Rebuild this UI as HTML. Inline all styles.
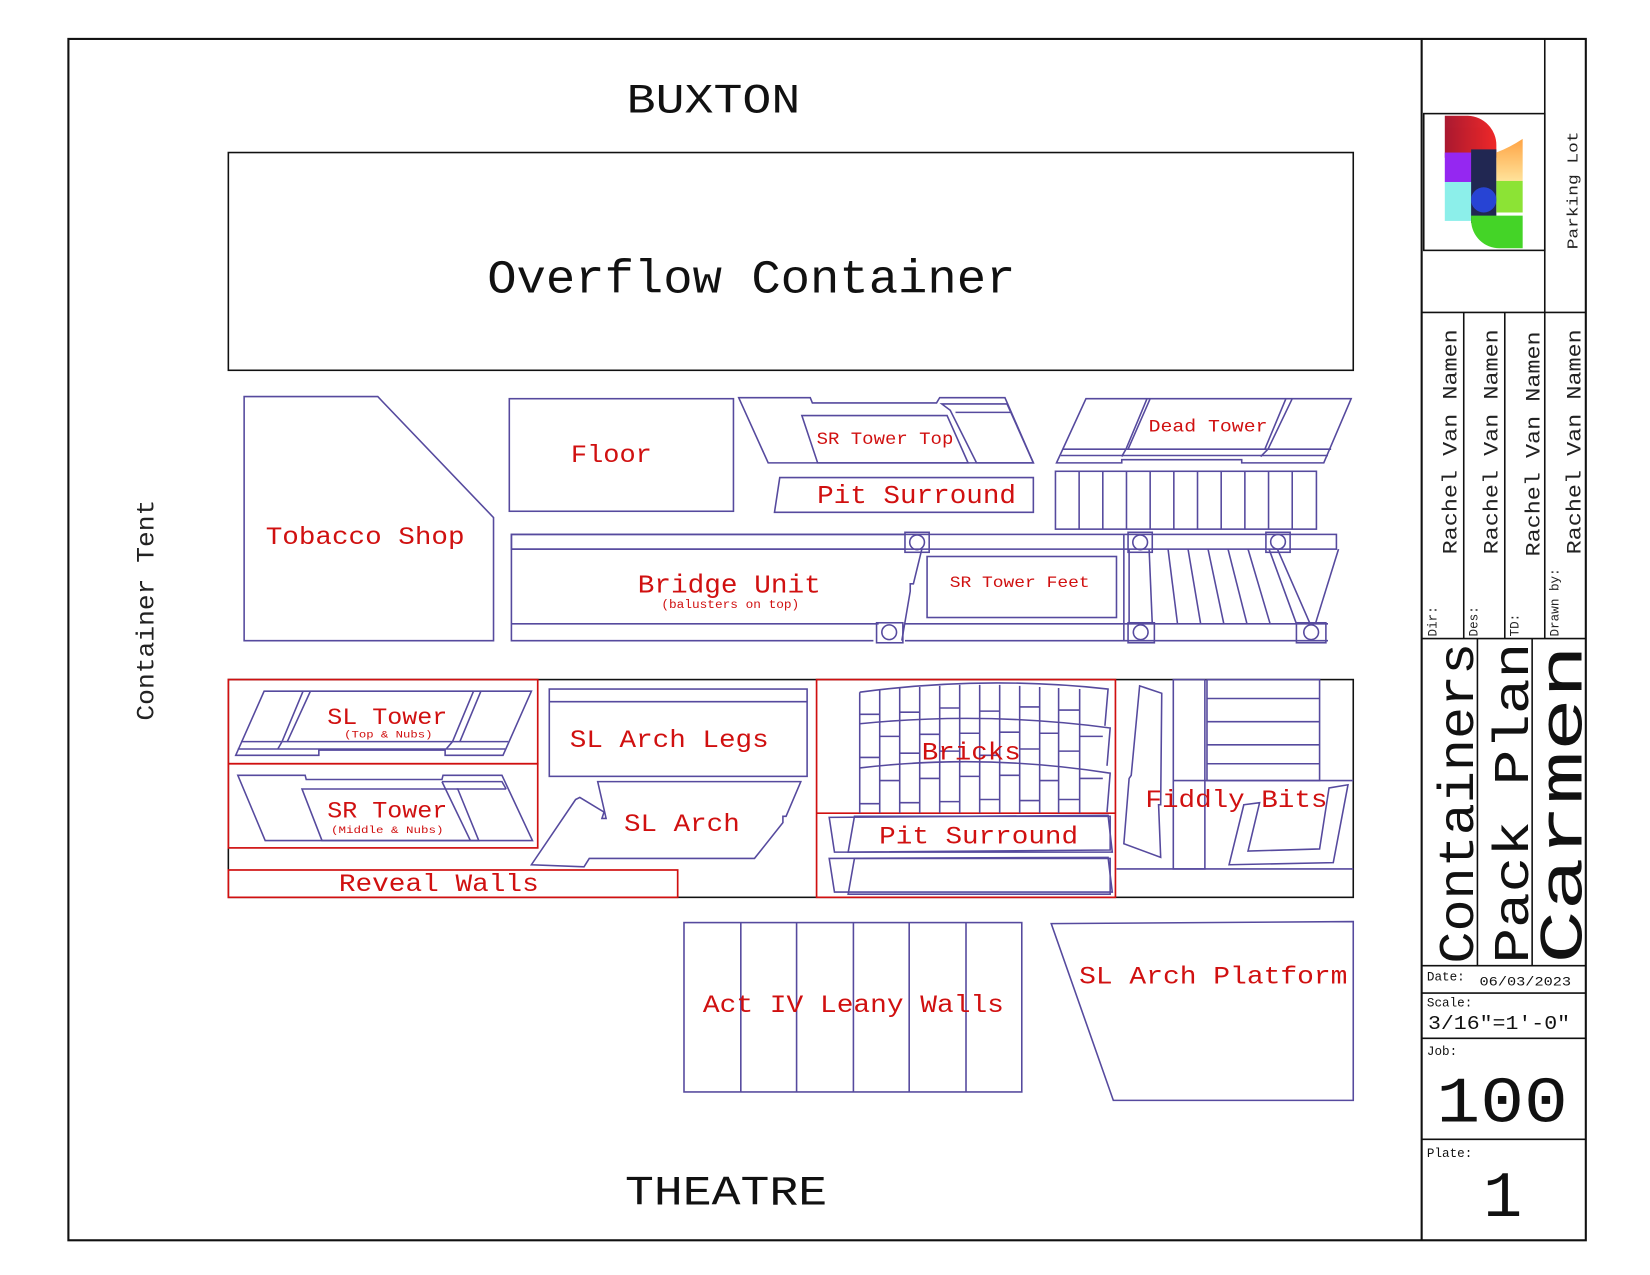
<!DOCTYPE html>
<html><head><meta charset="utf-8"><style>
html,body{margin:0;padding:0;background:#fff}
svg{display:block}
text{font-family:"Liberation Mono",monospace}
.p{fill:none;stroke:#564a9e;stroke-width:1.5}
.r{fill:none;stroke:#d01010;stroke-width:1.6}
.k{fill:none;stroke:#111;stroke-width:1.5}
.t{fill:#d01010}
</style></head><body>
<svg width="1650" height="1275" viewBox="0 0 1568 1212" preserveAspectRatio="none" xmlns="http://www.w3.org/2000/svg">
<defs>
<linearGradient id="g1" x1="0" x2="1"><stop offset="0" stop-color="#a0001a"/><stop offset="1" stop-color="#ee1111"/></linearGradient>
<linearGradient id="g2" x1="0" x2="0" y1="0" y2="1"><stop offset="0" stop-color="#ff9a30"/><stop offset="1" stop-color="#ffe090"/></linearGradient>
</defs>
<rect x="65" y="37" width="1442" height="1142" fill="none" stroke="#111" stroke-width="2"/>
<line x1="1351" y1="37" x2="1351" y2="1179" stroke="#111" stroke-width="2"/>
<text x="678" y="107" font-size="40" text-anchor="middle" fill="#111" textLength="165" lengthAdjust="spacingAndGlyphs">BUXTON</text>
<text x="690" y="1145" font-size="40" text-anchor="middle" fill="#111" textLength="192" lengthAdjust="spacingAndGlyphs">THEATRE</text>
<text transform="translate(146,580) rotate(-90)" font-size="24" text-anchor="middle" fill="#222" textLength="210" lengthAdjust="spacingAndGlyphs">Container Tent</text>
<rect x="217" y="145" width="1069" height="207" class="k"/>
<text x="714" y="278" font-size="45" text-anchor="middle" fill="#111" textLength="502" lengthAdjust="spacingAndGlyphs">Overflow Container</text>

<polygon class="p" points="232,377 359,377 469,492 469,609 232,609"/>
<text class="t" x="347" y="517" font-size="24" text-anchor="middle" textLength="189" lengthAdjust="spacingAndGlyphs">Tobacco Shop</text>
<rect class="p" x="484" y="379" width="213" height="107"/>
<text class="t" x="581" y="439" font-size="24" text-anchor="middle" textLength="77" lengthAdjust="spacingAndGlyphs">Floor</text>
<polygon class="p" points="702,378 770,378 772,383 890,383 893,378 955,378 982,440 730,440"/>
<polygon class="p" points="762,395 900,395 920,440 777,440"/>
<polygon class="p" points="895,384 957,384 982,440 928,440 903,390"/>
<line class="p" x1="908" y1="392" x2="960" y2="392"/>
<text class="t" x="841" y="422" font-size="17" text-anchor="middle" textLength="130" lengthAdjust="spacingAndGlyphs">SR Tower Top</text>
<polygon class="p" points="741,454 982,454 982,487 736,487"/>
<text class="t" x="871" y="478" font-size="25" text-anchor="middle" textLength="189" lengthAdjust="spacingAndGlyphs">Pit Surround</text>
<polygon class="p" points="1032,379 1284,379 1258,440 1180,440 1180,437 1066,437 1066,440 1004,440"/>
<polyline class="p" points="1090,379 1070,427 1066,434"/>
<polyline class="p" points="1228,379 1205,427 1198,434"/>
<polyline class="p" points="1093,379 1072,427"/>
<polyline class="p" points="1222,379 1202,427"/>
<line class="p" x1="1010" y1="427" x2="1265" y2="427"/>
<line class="p" x1="1008" y1="433" x2="1262" y2="433"/>
<text class="t" x="1148" y="410" font-size="17" text-anchor="middle" textLength="113" lengthAdjust="spacingAndGlyphs">Dead Tower</text>
<rect class="p" x="1003" y="448" width="248" height="55"/>
<g class="p">
<line x1="1025.5" y1="448" x2="1025.5" y2="503"/><line x1="1048" y1="448" x2="1048" y2="503"/><line x1="1070.5" y1="448" x2="1070.5" y2="503"/><line x1="1093" y1="448" x2="1093" y2="503"/><line x1="1115.5" y1="448" x2="1115.5" y2="503"/><line x1="1138" y1="448" x2="1138" y2="503"/><line x1="1160.5" y1="448" x2="1160.5" y2="503"/><line x1="1183" y1="448" x2="1183" y2="503"/><line x1="1205.5" y1="448" x2="1205.5" y2="503"/><line x1="1228" y1="448" x2="1228" y2="503"/>
</g>
<polyline class="p" points="860,508 486,508 486,609 830,609"/>
<line class="p" x1="486" y1="522" x2="860" y2="522"/>
<line class="p" x1="486" y1="593" x2="835" y2="593"/>
<rect class="p" x="486" y="508" width="784" height="14"/>
<line class="p" x1="860" y1="593" x2="1262" y2="593"/>
<line class="p" x1="860" y1="609" x2="1262" y2="609"/>
<polyline class="p" points="876,522 868,555 865,555 865,562 857,609"/>
<text class="t" x="693" y="563" font-size="25" text-anchor="middle" textLength="174" lengthAdjust="spacingAndGlyphs">Bridge Unit</text>
<text class="t" x="694" y="578" font-size="11" text-anchor="middle" textLength="131" lengthAdjust="spacingAndGlyphs">(balusters on top)</text>
<rect class="p" x="881" y="529" width="180" height="58"/>
<text class="t" x="969" y="558" font-size="15" text-anchor="middle" textLength="133" lengthAdjust="spacingAndGlyphs">SR Tower Feet</text>
<line class="p" x1="1068" y1="508" x2="1068" y2="609"/>
<line class="p" x1="1073" y1="522" x2="1073" y2="593"/>
<line class="p" x1="1092" y1="522" x2="1095" y2="593"/>
<g class="p">
<line x1="1110" y1="522" x2="1119" y2="593"/><line x1="1129" y1="522" x2="1141" y2="593"/><line x1="1148" y1="522" x2="1163" y2="593"/><line x1="1167" y1="522" x2="1185" y2="593"/><line x1="1186" y1="522" x2="1207" y2="593"/>
<line x1="1206" y1="522" x2="1232" y2="593"/><line x1="1214" y1="522" x2="1245" y2="593"/>
<line x1="1272" y1="522" x2="1250" y2="593"/>
</g>
<g class="p">
<rect x="860" y="506" width="23" height="19"/><circle cx="871.5" cy="515.5" r="7"/>
<rect x="833" y="592" width="25" height="19"/><circle cx="845" cy="601" r="7"/>
<rect x="1072" y="506" width="23" height="19"/><circle cx="1083.5" cy="515.5" r="7"/>
<rect x="1072" y="592" width="25" height="19"/><circle cx="1084" cy="601" r="7"/>
<rect x="1203" y="506" width="23" height="19"/><circle cx="1214.5" cy="515" r="7"/>
<rect x="1232" y="592" width="28" height="19"/><circle cx="1246" cy="601" r="7"/>
</g>

<rect class="k" x="217" y="646" width="1069" height="207"/>
<rect class="r" x="217" y="646" width="294" height="80"/>
<rect class="r" x="217" y="726" width="294" height="80"/>
<rect class="r" x="217" y="827" width="427" height="26"/>
<text class="t" x="417" y="847" font-size="24" text-anchor="middle" textLength="190" lengthAdjust="spacingAndGlyphs">Reveal Walls</text>
<polygon class="p" points="251,657 505,657 478,718 423,718 423,713 303,713 303,718 224,718"/>
<polyline class="p" points="288,657 268,705 264,712"/>
<polyline class="p" points="295,657 273,705"/>
<polyline class="p" points="450,657 430,705 424,712"/>
<polyline class="p" points="457,657 437,705"/>
<line class="p" x1="229" y1="705" x2="483" y2="705"/>
<line class="p" x1="226" y1="712" x2="480" y2="712"/>
<text class="t" x="368" y="688" font-size="22" text-anchor="middle" textLength="114" lengthAdjust="spacingAndGlyphs">SL Tower</text>
<text class="t" x="369" y="701" font-size="10" text-anchor="middle" textLength="84" lengthAdjust="spacingAndGlyphs">(Top &amp; Nubs)</text>
<polygon class="p" points="226,737 290,737 291,741 420,741 421,737 477,737 506,799 252,799"/>
<polygon class="p" points="287,750 435,750 455,799 306,799"/>
<polyline class="p" points="420,743 477,743 481,750"/>
<polyline class="p" points="420,743 447,799"/>
<line class="p" x1="434" y1="750" x2="481" y2="750"/>
<text class="t" x="368" y="777" font-size="22" text-anchor="middle" textLength="114" lengthAdjust="spacingAndGlyphs">SR Tower</text>
<text class="t" x="368" y="792" font-size="10" text-anchor="middle" textLength="107" lengthAdjust="spacingAndGlyphs">(Middle &amp; Nubs)</text>
<rect class="p" x="522" y="655" width="245" height="83"/>
<line class="p" x1="522" y1="667" x2="767" y2="667"/>
<text class="t" x="636" y="710" font-size="24" text-anchor="middle" textLength="189" lengthAdjust="spacingAndGlyphs">SL Arch Legs</text>
<polygon class="p" points="568,743 761,743 747,776 744,776 744,782 717,816 560,816 555,824 505,822 547,760 551,758 574,772 572,778 576,778"/>
<text class="t" x="648" y="790" font-size="24" text-anchor="middle" textLength="110" lengthAdjust="spacingAndGlyphs">SL Arch</text>
<rect class="r" x="776" y="646" width="284" height="207"/>
<line class="r" x1="776" y1="773" x2="1060" y2="773"/>
<g class="p">
<path d="M817,658 Q935,642 1053,655 L1050,690 M817,688 Q935,676 1055,692 L1052,728 M817,730 Q935,716 1055,735 L1052,772"/>
<path d="M817,658 L817,773 M836,656 L836,773 M855,654 L855,773 M874,653 L874,773 M893,652 L893,773 M912,651 L912,773 M931,651 L931,773 M950,651 L950,773 M969,652 L969,773 M988,653 L988,773 M1006,654 L1006,773 M1026,655 L1026,773"/>
<path d="M817,679 H836 M855,677 H874 M893,673 H912 M931,676 H950 M969,672 H988 M1006,675 H1026 M836,700 H855 M874,698 H893 M912,697 H931 M950,696 H969 M988,697 H1006 M1026,700 H1048 M817,720 H836 M855,716 H874 M893,714 H912 M931,718 H950 M969,712 H988 M1006,714 H1026 M836,742 H855 M874,740 H893 M912,738 H931 M950,737 H969 M988,742 H1006 M1026,740 H1048 M817,764 H836 M855,763 H874 M893,762 H912 M931,760 H950 M969,761 H988 M1006,760 H1026"/>
</g>
<text class="t" x="923" y="722" font-size="24" text-anchor="middle" textLength="94" lengthAdjust="spacingAndGlyphs">Bricks</text>
<polygon class="p" points="788,777 1053,775 1057,810 793,810"/>
<polygon class="p" points="812,776 1055,776 1055,808 806,810"/>
<polygon class="p" points="788,816 1053,815 1057,848 793,848"/>
<polygon class="p" points="812,816 1055,816 1055,850 806,850"/>
<text class="t" x="930" y="802" font-size="24" text-anchor="middle" textLength="189" lengthAdjust="spacingAndGlyphs">Pit Surround</text>
<polygon class="p" points="1083,652 1104,659 1103,765 1101,765 1103,815 1068,802 1073,740 1075,737"/>
<rect class="p" x="1115" y="646" width="30" height="180"/>
<rect class="p" x="1147" y="646" width="107" height="96"/>
<g class="p"><line x1="1147" y1="664" x2="1254" y2="664"/><line x1="1147" y1="686" x2="1254" y2="686"/><line x1="1147" y1="708" x2="1254" y2="708"/><line x1="1147" y1="726" x2="1254" y2="726"/></g>
<line class="p" x1="1115" y1="742" x2="1286" y2="742"/>
<line class="p" x1="1061" y1="826" x2="1286" y2="826"/>
<polygon class="p" points="1182,765 1197,763 1186,809 1254,807 1263,749 1281,746 1267,820 1168,822"/>
<text class="t" x="1175" y="767" font-size="24" text-anchor="middle" textLength="173" lengthAdjust="spacingAndGlyphs">Fiddly Bits</text>

<rect class="p" x="650" y="877" width="321" height="161"/>
<g class="p"><line x1="704" y1="877" x2="704" y2="1038"/><line x1="757" y1="877" x2="757" y2="1038"/><line x1="811" y1="877" x2="811" y2="1038"/><line x1="864" y1="877" x2="864" y2="1038"/><line x1="918" y1="877" x2="918" y2="1038"/></g>
<text class="t" x="811" y="962" font-size="24" text-anchor="middle" textLength="286" lengthAdjust="spacingAndGlyphs">Act IV Leany Walls</text>
<polygon class="p" points="999,878 1286,876 1286,1046 1058,1046"/>
<text class="t" x="1153" y="935" font-size="24" text-anchor="middle" textLength="255" lengthAdjust="spacingAndGlyphs">SL Arch Platform</text>

<g stroke="#111" stroke-width="1.5" fill="none">
<line x1="1468" y1="37" x2="1468" y2="297"/>
<rect x="1353" y="108" width="115" height="130"/>
<line x1="1351" y1="297" x2="1507" y2="297"/>
<line x1="1351" y1="607" x2="1507" y2="607"/>
<line x1="1391" y1="297" x2="1391" y2="607"/>
<line x1="1430" y1="297" x2="1430" y2="607"/>
<line x1="1468" y1="297" x2="1468" y2="607"/>
<line x1="1404" y1="607" x2="1404" y2="918"/>
<line x1="1456" y1="607" x2="1456" y2="918"/>
<line x1="1351" y1="918" x2="1507" y2="918"/>
<line x1="1351" y1="944" x2="1507" y2="944"/>
<line x1="1351" y1="987" x2="1507" y2="987"/>
<line x1="1351" y1="1083" x2="1507" y2="1083"/>
</g>
<g opacity="0.9">
<path d="M1373,110 H1395 A28,28 0 0 1 1422,138 V150 H1373 Z" fill="url(#g1)"/>
<rect x="1373" y="145" width="27" height="28" fill="#8a10f0"/>
<rect x="1373" y="173" width="27" height="37" fill="#80eee8"/>
<rect x="1398" y="142" width="24" height="70" fill="#0a1040"/>
<path d="M1422,145 Q1435,140 1447,132 V172 H1422 Z" fill="url(#g2)"/>
<rect x="1422" y="172" width="25" height="30" fill="#80e020"/>
<path d="M1398,205 H1447 V236 H1425 A27,27 0 0 1 1398,210 Z" fill="#30d010"/>
<circle cx="1410" cy="190" r="12" fill="#1030d0"/>
</g>
<text transform="translate(1499,181) rotate(-90)" font-size="14" text-anchor="middle" fill="#222" textLength="112" lengthAdjust="spacingAndGlyphs">Parking Lot</text>
<g font-size="19" fill="#222" text-anchor="middle">
<text transform="translate(1384,420) rotate(-90)" textLength="214" lengthAdjust="spacingAndGlyphs">Rachel Van Namen</text>
<text transform="translate(1423,420) rotate(-90)" textLength="214" lengthAdjust="spacingAndGlyphs">Rachel Van Namen</text>
<text transform="translate(1463,422) rotate(-90)" textLength="214" lengthAdjust="spacingAndGlyphs">Rachel Van Namen</text>
<text transform="translate(1502,420) rotate(-90)" textLength="214" lengthAdjust="spacingAndGlyphs">Rachel Van Namen</text>
</g>
<g font-size="12" fill="#222">
<text transform="translate(1365,605) rotate(-90)">Dir:</text>
<text transform="translate(1404,605) rotate(-90)">Des:</text>
<text transform="translate(1443,605) rotate(-90)">TD:</text>
<text transform="translate(1481,605) rotate(-90)">Drawn by:</text>
</g>
<text transform="translate(1400,916) rotate(-90)" font-size="48" fill="#111" textLength="305" lengthAdjust="spacingAndGlyphs">Containers</text>
<text transform="translate(1452,916) rotate(-90)" font-size="48" fill="#111" textLength="305" lengthAdjust="spacingAndGlyphs">Pack Plan</text>
<text transform="translate(1503,916) rotate(-90)" font-size="58" fill="#111" textLength="303" lengthAdjust="spacingAndGlyphs">Carmen</text>
<text x="1356" y="932" font-size="12" fill="#111">Date:</text>
<text x="1406" y="937" font-size="12" fill="#111" textLength="87" lengthAdjust="spacingAndGlyphs">06/03/2023</text>
<text x="1356" y="957" font-size="12" fill="#111">Scale:</text>
<text x="1357" y="978" font-size="18" fill="#111" textLength="135" lengthAdjust="spacingAndGlyphs">3/16"=1'-0"</text>
<text x="1356" y="1003" font-size="12" fill="#111">Job:</text>
<text x="1365" y="1066" font-size="62" fill="#111" textLength="125" lengthAdjust="spacingAndGlyphs">100</text>
<text x="1356" y="1100" font-size="12" fill="#111">Plate:</text>
<text x="1428" y="1156" font-size="62" text-anchor="middle" fill="#111">1</text>
</svg>
</body></html>
